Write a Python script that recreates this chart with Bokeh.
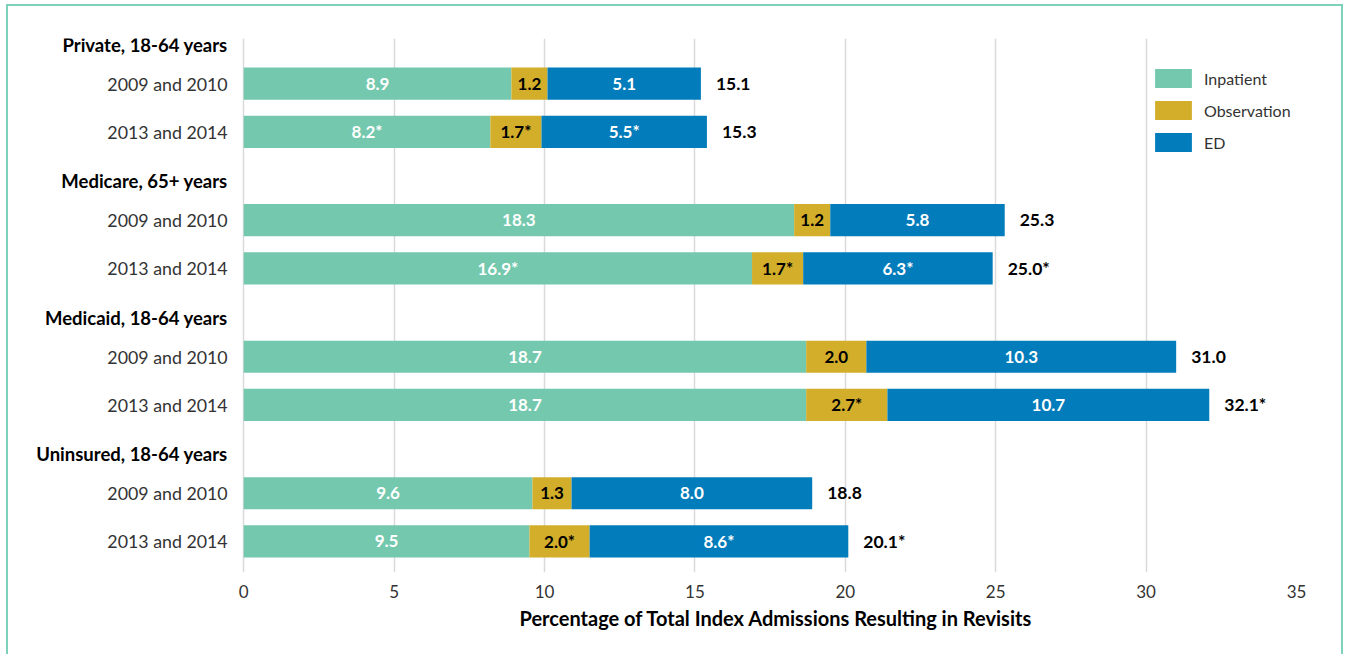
from bokeh.plotting import figure
from bokeh.models import ColumnDataSource, Range1d, FixedTicker, Title
from bokeh.core.properties import value
from bokeh.embed import file_html
from bokeh.resources import INLINE

# ---- data ----
groups = ["Private, 18-64 years", "Medicare, 65+ years",
          "Medicaid, 18-64 years", "Uninsured, 18-64 years"]
periods = ["2009 and 2010", "2013 and 2014"]
series = ["Inpatient", "Observation", "ED"]
inpatient = [8.9, 8.2, 18.3, 16.9, 18.7, 18.7, 9.6, 9.5]
observation = [1.2, 1.7, 1.2, 1.7, 2.0, 2.7, 1.3, 2.0]
ed = [5.1, 5.5, 5.8, 6.3, 10.3, 10.7, 8.0, 8.6]
totals = [15.1, 15.3, 25.3, 25.0, 31.0, 32.1, 18.8, 20.1]
inpatient_sig = [False, True, False, True, False, False, False, False]
observation_sig = [False, True, False, True, False, True, False, True]
ed_sig = [False, True, False, True, False, False, False, True]
total_sig = [False, False, False, True, False, True, False, True]
x_ticks = [0, 5, 10, 15, 20, 25, 30, 35]
x_title = "Percentage of Total Index Admissions Resulting in Revisits"

colors = ["#74C8AE", "#D2AE2B", "#037CBB"]
FONT = "Lato"

# ---- layout of rows (screen-like units) ----
GROUP_STEP = 136
ROW_OFFSETS = [38, 86]
bar_y, bar_period = [], []
for gi in range(len(groups)):
    for pi, per in enumerate(periods):
        bar_y.append(gi * GROUP_STEP + ROW_OFFSETS[pi])
        bar_period.append(per)
header_y = [gi * GROUP_STEP - 1 for gi in range(len(groups))]


def fmt(v, s):
    return f"{v:.1f}" + ("*" if s else "")


src = ColumnDataSource(dict(y=bar_y, Inpatient=inpatient,
                            Observation=observation, ED=ed))

PX_PER_UNIT = 30.057
LEFT_PAD = 235  # px between frame left edge and x = 0 (room for row labels)

p = figure(width=1337, height=650, output_backend="svg", toolbar_location=None,
           x_range=Range1d(-LEFT_PAD / PX_PER_UNIT, 35), y_range=Range1d(525, -7),
           min_border_left=0, min_border_right=49,
           min_border_top=32, min_border_bottom=84)
p.styles = {"border-top": "2px solid #7DD0B9",
            "border-left": "2px solid #7DD0B9",
            "border-right": "2px solid #7DD0B9",
            "margin-left": "6px", "margin-top": "4px",
            "box-sizing": "border-box"}
p.outline_line_color = None
p.background_fill_color = "white"
p.border_fill_color = "white"

p.hbar_stack(series, y="y", height=32, color=colors, source=src,
             legend_label=series, line_width=0)

# segment labels
left = [0.0] * len(bar_y)
seg_sets = [(inpatient, inpatient_sig, "white"),
            (observation, observation_sig, "black"),
            (ed, ed_sig, "white")]
for vals, sig, col in seg_sets:
    cx = [l + v / 2 for l, v in zip(left, vals)]
    txt = [fmt(v, s) for v, s in zip(vals, sig)]
    p.text(x=cx, y=bar_y, text=txt, text_align="center", text_baseline="middle",
           text_color=col, text_font=value(FONT), text_font_style="bold",
           text_font_size="17px")
    left = [l + v for l, v in zip(left, vals)]

# totals
p.text(x=left, y=bar_y, text=[fmt(v, s) for v, s in zip(totals, total_sig)],
       x_offset=15, text_align="left", text_baseline="middle",
       text_color="black", text_font=value(FONT), text_font_style="bold",
       text_font_size="17.5px")

# row labels
p.text(x=[0] * len(bar_y), y=bar_y, text=bar_period, x_offset=-16,
       text_align="right", text_baseline="middle", text_font=value(FONT),
       text_font_size="17.8px", text_color="#333333")
p.text(x=[0] * len(groups), y=header_y, text=groups, x_offset=-16,
       text_align="right", text_baseline="middle", text_font=value(FONT),
       text_font_size="18.5px", text_font_style="bold", text_color="black")

# axes
p.yaxis.visible = False
p.ygrid.grid_line_color = None
p.xgrid.grid_line_color = "#DADADA"
p.xgrid.grid_line_width = 1.5
p.xaxis.ticker = FixedTicker(ticks=x_ticks)
p.xaxis.axis_line_color = None
p.xaxis.major_tick_line_color = None
p.xaxis.minor_tick_line_color = None
p.xaxis.major_label_standoff = 6
p.xaxis.major_label_text_font = FONT
p.xaxis.major_label_text_font_size = "17px"
p.xaxis.major_label_text_color = "#333333"

p.add_layout(Title(text=x_title, align="left", offset=511,
                   text_font=FONT, text_font_size="20px", text_font_style="bold",
                   text_color="black", standoff=6), "below")

# legend
lg = p.legend[0]
lg.location = (1142, 418)
lg.glyph_width = 46
lg.glyph_height = 24
lg.spacing = 8
lg.padding = 0
lg.margin = 0
lg.border_line_color = None
lg.background_fill_alpha = 0
lg.label_text_font = FONT
lg.label_text_font_size = "16px"
lg.label_text_color = "#333333"
lg.label_standoff = 8

open("out.html", "w").write(file_html(p, INLINE))
